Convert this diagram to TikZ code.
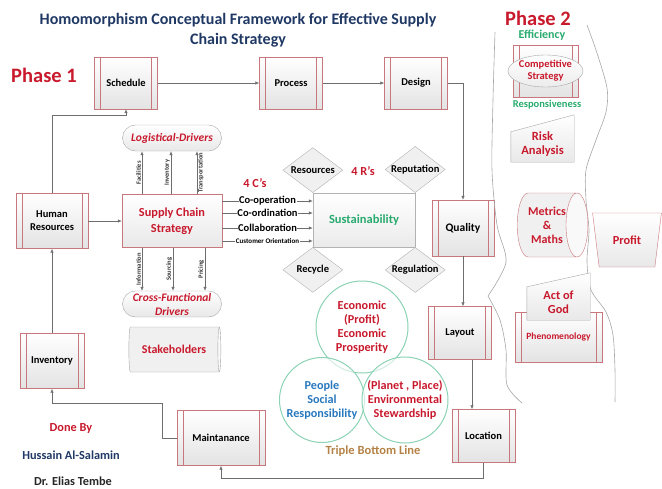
\documentclass[tikz,border=0pt]{standalone}
\usepackage{fontspec}
\setmainfont{Carlito}
\usepackage{tikz}
\usetikzlibrary{positioning,shapes.geometric,shapes.misc,arrows.meta}

\definecolor{boxred}{RGB}{200,120,125}
\definecolor{txtred}{RGB}{200,25,45}
\definecolor{navy}{RGB}{31,56,100}
\definecolor{tealgreen}{RGB}{40,170,110}
\definecolor{mint}{RGB}{140,210,180}
\definecolor{pplblue}{RGB}{40,120,190}
\definecolor{gold}{RGB}{180,130,70}
\definecolor{linegray}{RGB}{110,110,110}

\begin{document}
\begin{tikzpicture}[x=1pt, y=-1pt,
			procbox/.style={draw=boxred, top color=white, bottom color=gray!22, align=center,
				minimum width=63pt, minimum height=52pt, font=\bfseries\fontsize{10.5}{13}\selectfont,
				path picture={
					\draw[boxred] ([xshift=6pt]path picture bounding box.north west) -- ([xshift=6pt]path picture bounding box.south west);
					\draw[boxred] ([xshift=-6pt]path picture bounding box.north east) -- ([xshift=-6pt]path picture bounding box.south east);}},
			scsbox/.style={draw=boxred, top color=white, bottom color=gray!18, align=center, text=txtred,
				minimum width=100pt, minimum height=53pt, font=\bfseries\fontsize{12.3}{16}\selectfont},
			drvbox/.style={rounded rectangle, draw=gray!70, top color=white, bottom color=gray!18, align=center,
				text=txtred, inner sep=0pt, minimum width=99pt, minimum height=26pt,
				font=\bfseries\itshape\fontsize{11.5}{14}\selectfont},
			cyl/.style={cylinder, draw=gray!70, shape aspect=0.35, cylinder uses custom fill,
				cylinder body fill=gray!12, cylinder end fill=gray!5, align=center, text=txtred, inner sep=0pt,
				font=\bfseries\fontsize{12}{14}\selectfont},
			sustbox/.style={draw=gray!60, top color=white, bottom color=gray!16, text=tealgreen,
				minimum width=102pt, minimum height=54pt, font=\bfseries\fontsize{12.5}{14}\selectfont},
			dmd/.style={diamond, draw=gray!60, fill=gray!12, aspect=1.3, inner sep=0pt,
				minimum width=60pt, minimum height=45pt, font=\bfseries\fontsize{10.5}{11}\selectfont},
			tbl/.style={circle, draw=mint, line width=1pt, fill=white, fill opacity=0.6, text opacity=1,
				align=center, text=txtred, minimum size=92pt, inner sep=0pt, font=\bfseries\fontsize{12.2}{14}\selectfont},
			redtxt/.style={text=txtred, align=center, font=\bfseries\fontsize{12.3}{14}\selectfont},
			phase/.style={text=txtred, font=\bfseries\fontsize{20.5}{22}\selectfont},
			arr/.style={draw=linegray, line width=0.6pt, -{Latex[length=4pt,width=3.5pt]}},
			drvlbl/.style={rotate=90, inner sep=0.8pt, text=black!80, font=\bfseries\fontsize{6.5}{7}\selectfont},
			clbl/.style={fill=white, inner sep=0.5pt, font=\bfseries\fontsize{10.5}{11}\selectfont},
			bound/.style={draw=gray!70, line width=0.6pt},
		]
			\useasboundingbox (0,0) rectangle (662,488);

			%Title
			\node[text=navy, align=center, font=\bfseries\fontsize{16}{20}\selectfont] (title) at (238,30)
				{Homomorphism Conceptual Framework for Effective Supply\\Chain Strategy};
			\node[phase] (ph1) at (44,75) {Phase 1};

			%Process boxes
			\node[procbox] (sched) at (126,83) {Schedule};
			\node[procbox] (proc) at (291,83) {Process};
			\node[procbox] (design) at (416,83) {Design};
			\node[procbox, minimum width=72pt, minimum height=55pt] (hr) at (52,221) {Human\\Resources};
			\node[procbox, minimum width=64pt, minimum height=55pt] (inv) at (52,361) {Inventory};
			\node[procbox, minimum width=88pt, minimum height=55pt] (maint) at (221,438) {Maintanance};
			\node[procbox, minimum width=62pt, minimum height=56pt, font=\bfseries\fontsize{11.5}{13}\selectfont] (quality) at (463,228) {Quality};
			\node[procbox, minimum height=53pt] (layout) at (460,333) {Layout};
			\node[procbox, minimum height=53pt] (loc) at (483.5,436) {Location};

			%Strategy and drivers
			\node[scsbox] (scs) at (172,221) {Supply Chain\\Strategy};
			\node[drvbox] (logi) at (172,138) {Logistical-Drivers};
			\node[drvbox] (cross) at (172,304) {Cross-Functional\\Drivers};
			\node[cyl, minimum width=45pt, minimum height=92pt] (stake) at (174,349.5) {Stakeholders};

			%Sustainability and the 4 R's
			\node[sustbox] (sust) at (364,220) {Sustainability};
			\node[dmd, anchor=south] (res) at (sust.north west) {Resources};
			\node[dmd, anchor=south] (rep) at (sust.north east) {Reputation};
			\node[dmd, anchor=north] (recyc) at (sust.south west) {Recycle};
			\node[dmd, anchor=north] (regul) at (sust.south east) {Regulation};
			\node[redtxt] (fourc) at (255,183) {4 C’s};
			\node[redtxt] (fourr) at (363,171) {4 R’s};

			%Triple bottom line
			\node[tbl] (econ) at (362,327) {Economic\\(Profit)\\Economic\\Prosperity};
			\node[tbl, text=pplblue, minimum size=85pt] (people) at (322,400) {People\\Social\\Responsibility};
			\node[tbl, minimum size=86pt] (planet) at (405,400) {(Planet , Place)\\Environmental\\Stewardship};
			\node[redtxt, text=gold, font=\bfseries\fontsize{12.5}{14}\selectfont] (tbline) at (373,451) {Triple Bottom Line};

			%Authors
			\node[redtxt] (done) at (71,428) {Done By};
			\node[redtxt, text=navy] (author1) at (71,455) {Hussain Al-Salamin};
			\node[redtxt, text=black!85] (author2) at (73,481) {Dr. Elias Tembe};

			%Lines
			\draw[arr] (sched) -- (proc);
			\draw[arr] (proc) -- (design);
			\draw[arr] (design.east) -| (quality.north);
			\draw[arr] (quality.south) -- (quality.south |- layout.north);
			\draw[arr] ([xshift=12pt]layout.south) -- ([xshift=12pt]layout.south |- loc.north);
			\draw[arr] (loc.south) -- ++(0,16) -| (maint.south);
			\draw[arr] (maint.west) -- ++(-15,0) -- ++(0,-35) -| (inv.south);
			\draw[arr] (inv.north) -- (hr.south);
			\draw[arr] (hr.north) -- ++(0,-78) -| (sched.south);
			\draw[arr] (hr.east) -- (scs.west);

			\draw[arr] ([xshift=-30pt]scs.north) -- node[drvlbl, anchor=south] {Facilities} ([xshift=-30pt]logi.south);
			\draw[arr] ([xshift=-1pt]scs.north) -- node[drvlbl, anchor=south] {Inventory} ([xshift=-1pt]logi.south);
			\draw[arr] ([xshift=25pt]scs.north) -- node[drvlbl, anchor=north] {Transportation} ([xshift=25pt]logi.south);
			\draw[arr] ([xshift=-30pt]scs.south) -- node[drvlbl, anchor=south] {Information} ([xshift=-30pt]cross.north);
			\draw[arr] ([xshift=1pt]scs.south) -- node[drvlbl, anchor=south] {Sourcing} ([xshift=1pt]cross.north);
			\draw[arr] ([xshift=33pt]scs.south) -- node[drvlbl, anchor=south] {Pricing} ([xshift=33pt]cross.north);

			\draw[arr] (scs.east |- 0,201) -- node[clbl] {Co-operation} (sust.west |- 0,201);
			\draw[arr] (scs.east |- 0,213) -- node[clbl] {Co-ordination} (sust.west |- 0,213);
			\draw[arr] (scs.east |- 0,228) -- node[clbl] {Collaboration} (sust.west |- 0,228);
			\draw[arr] (scs.east |- 0,241) -- node[clbl, font=\bfseries\fontsize{7}{8}\selectfont] {Customer Orientation} (sust.west |- 0,241);

			%Phase 2
			\draw[bound] plot[smooth] coordinates {(495,32) (493,100) (492,170) (497,225) (506,262) (488,296)};
			\draw[bound] plot[smooth] coordinates {(488,296) (500,320) (506,350) (507,385) (522,403)};
			\draw[bound] plot[smooth] coordinates {(587,25) (597,53) (607,88) (606,112) (596,140) (586,170) (586,200)
				(589,230) (587,262) (591,290) (606,312) (613,335) (615,370) (615,402)};

			\node[phase] (ph2) at (538,18) {Phase 2};
			\node[redtxt, text=tealgreen, font=\bfseries\fontsize{12}{13}\selectfont] (eff) at (542,35) {Efficiency};
			\node[procbox, minimum width=65pt] (compbox) at (545.5,71) {};
			\node[ellipse, draw=gray!70, top color=white, bottom color=gray!15, minimum width=59pt, minimum height=32pt,
				inner sep=0pt, redtxt, font=\bfseries\fontsize{10.5}{12}\selectfont] (comp) at (compbox) {Competitive\\Strategy};
			\node[redtxt, text=tealgreen, font=\bfseries\fontsize{10.5}{11}\selectfont] (resp) at (547,105) {Responsiveness};

			\node[minimum width=63pt, minimum height=47pt] (risk) at (542.5,138.5) {};
			\draw[draw=gray!70, top color=white, bottom color=gray!18] (risk.south west) -- ([yshift=-17pt]risk.north west)
				-- (risk.north east) -- (risk.south east) -- cycle;
			\node[redtxt, font=\bfseries\fontsize{12.5}{14}\selectfont] (risktxt) at ([yshift=-6pt]risk.center) {Risk\\Analysis};

			\node[cyl, draw=boxred, shape aspect=0.6, minimum width=64pt, minimum height=70pt] (metrics) at (547,225) {Metrics\\\&\\Maths};
			\node[trapezium, trapezium angle=75, trapezium stretches=true, shape border rotate=180, draw=boxred,
				top color=white, bottom color=gray!18, minimum width=69pt, minimum height=54pt, redtxt] (profit) at (627,240) {Profit};

			\node[procbox, minimum width=87pt, minimum height=50pt, text=txtred, font=\bfseries\fontsize{9.5}{11}\selectfont] (phen) at (558.5,337) {Phenomenology};
			\node[minimum width=63pt, minimum height=47pt] (god) at (558.5,296.5) {};
			\draw[draw=gray!70, top color=white, bottom color=gray!18] (god.south west) -- ([yshift=-14pt]god.north west)
				-- (god.north east) -- (god.south east) -- cycle;
			\node[redtxt] (godtxt) at ([yshift=-6pt]god.center) {Act of\\God};

		\end{tikzpicture}
\end{document}
